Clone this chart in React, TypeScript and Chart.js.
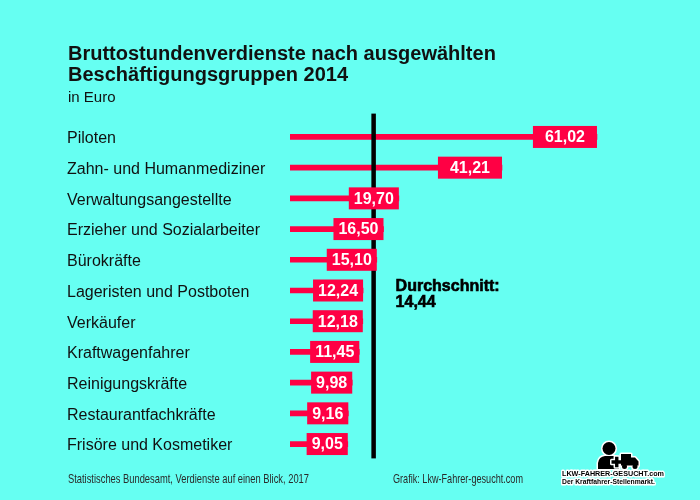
import React, { useEffect, useRef } from "react";
import { Chart, registerables } from "chart.js";

Chart.register(...registerables);

const categories = [
  "Piloten",
  "Zahn- und Humanmediziner",
  "Verwaltungsangestellte",
  "Erzieher und Sozialarbeiter",
  "Bürokräfte",
  "Lageristen und Postboten",
  "Verkäufer",
  "Kraftwagenfahrer",
  "Reinigungskräfte",
  "Restaurantfachkräfte",
  "Frisöre und Kosmetiker",
];
const values = [61.02, 41.21, 19.7, 16.5, 15.1, 12.24, 12.18, 11.45, 9.98, 9.16, 9.05];
const average = 14.44;
const titleLines = ["Bruttostundenverdienste nach ausgewählten", "Beschäftigungsgruppen 2014"];
const subtitle = "in Euro";
const averageLabel = "Durchschnitt:";
const sourceText = "Statistisches Bundesamt, Verdienste auf einen Blick, 2017";
const creditText = "Grafik: Lkw-Fahrer-gesucht.com";
const logoText = "LKW-FAHRER-GESUCHT.com";
const logoSub = "Der Kraftfahrer-Stellenmarkt.";

const BG = "#66fff2";
const RED = "#ff0044";
const FONT = "'Liberation Sans', Arial, sans-serif";
const fmt = (v: number) => v.toFixed(2).replace(".", ",");

function outlinedText(ctx: CanvasRenderingContext2D, t: string, x: number, y: number, maxW: number) {
  ctx.lineJoin = "round";
  ctx.strokeStyle = "#fff";
  ctx.lineWidth = 3;
  ctx.strokeText(t, x, y, maxW);
  ctx.fillStyle = "#000";
  ctx.fillText(t, x, y, maxW);
}

const decor = {
  id: "decor",
  beforeDraw(chart: any) {
    const ctx: CanvasRenderingContext2D = chart.ctx;
    ctx.save();
    ctx.fillStyle = BG;
    ctx.fillRect(0, 0, chart.width, chart.height);
    ctx.fillStyle = "#111";
    ctx.textAlign = "left";
    ctx.textBaseline = "alphabetic";
    ctx.font = `bold 20px ${FONT}`;
    ctx.fillText(titleLines[0], 68, 60);
    ctx.fillText(titleLines[1], 68, 81);
    ctx.font = `15px ${FONT}`;
    ctx.fillText(subtitle, 68, 102);

    // category labels
    const ys = chart.scales.y;
    ctx.font = `16px ${FONT}`;
    ctx.fillStyle = "#111";
    categories.forEach((c, i) => {
      ctx.fillText(c, 67, ys.getPixelForValue(i) + 6.3);
    });

    // footer
    ctx.fillStyle = "#2a2a2a";
    ctx.font = `13px ${FONT}`;
    ctx.fillText(sourceText, 68, 483, 241);
    ctx.fillText(creditText, 393, 483, 130);

    // logo
    ctx.lineJoin = "round";
    ctx.strokeStyle = "#fff";
    ctx.lineWidth = 3;
    ctx.fillStyle = "#000";
    const person = new Path2D();
    person.arc(609, 448.5, 6.5, 0, Math.PI * 2);
    const body = new Path2D();
    body.moveTo(598, 469);
    body.lineTo(598, 463);
    body.quadraticCurveTo(599, 456.5, 605, 456);
    body.lineTo(613, 456);
    body.quadraticCurveTo(619, 456.5, 619, 462);
    body.lineTo(619, 469);
    body.closePath();
    ctx.stroke(person);
    ctx.stroke(body);
    ctx.fill(person);
    ctx.fill(body);
    const plus = new Path2D();
    plus.rect(611.5, 460.3, 10.5, 3.4);
    plus.rect(615.05, 456.75, 3.4, 10.5);
    ctx.stroke(plus);
    const truck = new Path2D();
    truck.rect(621, 454, 10, 11.5);
    truck.moveTo(631, 457.5);
    truck.lineTo(635, 457.5);
    truck.lineTo(638.5, 461.5);
    truck.lineTo(638.5, 465.5);
    truck.lineTo(631, 465.5);
    truck.closePath();
    const wheels = new Path2D();
    wheels.arc(624.5, 466.5, 2.5, 0, Math.PI * 2);
    wheels.moveTo(637.5, 466.5);
    wheels.arc(635, 466.5, 2.5, 0, Math.PI * 2);
    ctx.stroke(truck);
    ctx.stroke(wheels);
    ctx.fill(plus);
    ctx.fill(truck);
    ctx.fill(wheels);

    ctx.font = `bold 7.5px ${FONT}`;
    outlinedText(ctx, logoText, 562, 476.3, 102);
    ctx.font = `bold 6.8px ${FONT}`;
    outlinedText(ctx, logoSub, 562, 484.3, 93);
    ctx.restore();
  },
  afterDatasetsDraw(chart: any) {
    const ctx: CanvasRenderingContext2D = chart.ctx;
    const area = chart.chartArea;
    const xs = chart.scales.x;
    const ax = xs.getPixelForValue(average);
    ctx.save();
    ctx.fillStyle = "#000";
    ctx.fillRect(ax - 2.25, area.top - 8, 4.5, area.bottom - area.top + 7);

    const meta = chart.getDatasetMeta(0);
    ctx.font = `bold 16px ${FONT}`;
    meta.data.forEach((el: any, i: number) => {
      const txt = fmt(values[i]);
      const tw = ctx.measureText(txt).width;
      const pad = values[i] > 30 ? 12 : 5;
      const w = tw + pad * 2;
      const h = 22;
      ctx.fillStyle = RED;
      ctx.fillRect(el.x - w, el.y - h / 2, w, h);
      ctx.fillStyle = "#fff";
      ctx.textAlign = "center";
      ctx.textBaseline = "middle";
      ctx.fillText(txt, el.x - w / 2, el.y + 1);
    });

    ctx.textAlign = "left";
    ctx.textBaseline = "alphabetic";
    ctx.font = `bold 16px ${FONT}`;
    ctx.fillStyle = "#000";
    ctx.strokeStyle = "#000";
    ctx.lineWidth = 0.6;
    ctx.fillText(averageLabel, ax + 22, 291);
    ctx.strokeText(averageLabel, ax + 22, 291);
    ctx.fillText(fmt(average), ax + 22, 307);
    ctx.strokeText(fmt(average), ax + 22, 307);
    ctx.restore();
  },
};

export default function App() {
  const ref = useRef<HTMLCanvasElement | null>(null);
  useEffect(() => {
    if (!ref.current) return;
    const chart = new Chart(ref.current, {
      type: "bar",
      data: {
        labels: categories,
        datasets: [
          {
            data: values,
            backgroundColor: RED,
            borderWidth: 0,
            barThickness: 5,
            base: -3,
          } as any,
        ],
      },
      options: {
        animation: false,
        responsive: false,
        indexAxis: "y",
        layout: { padding: { left: 67, right: 36, top: 121.6, bottom: 40.6 } },
        plugins: { legend: { display: false }, tooltip: { enabled: false } },
        scales: {
          x: { display: false, min: -3, max: 75 },
          y: {
            grid: { display: false },
            border: { display: false },
            ticks: { display: false },
            afterFit: (s: any) => {
              s.width = 223;
            },
          },
        },
      } as any,
      plugins: [decor],
    });
    return () => chart.destroy();
  }, []);
  return (
    <div style={{ position: "fixed", left: 0, top: 0, width: 700, height: 500 }}>
      <canvas ref={ref} width={700} height={500} />
    </div>
  );
}
